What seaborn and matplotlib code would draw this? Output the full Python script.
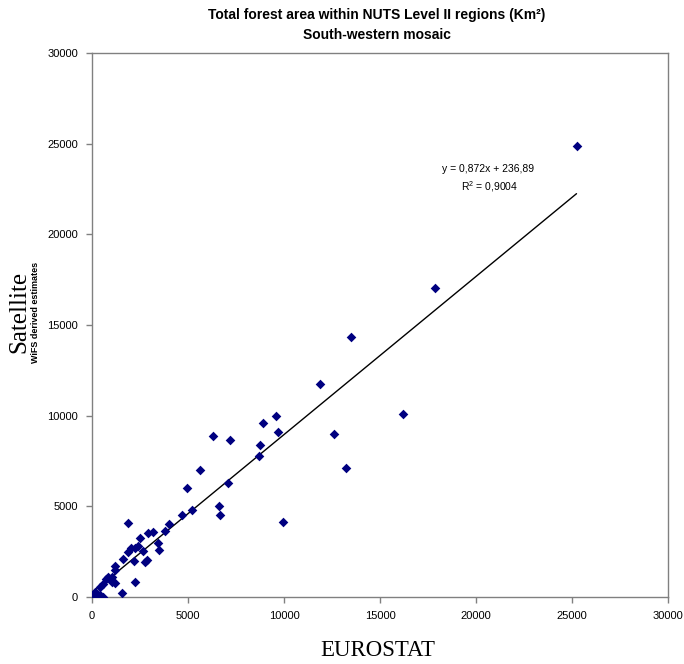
import numpy as np
import pandas as pd
import matplotlib
matplotlib.use("Agg")
import matplotlib.pyplot as plt
from matplotlib.transforms import Bbox, TransformedBbox
import seaborn as sns

# Forest area per NUTS II region (km²): EUROSTAT statistics vs. satellite estimates
eurostat = [25235, 17842, 13512, 16188, 11895, 12625, 13215, 9599, 8905, 9688,
            9938, 8728, 8676, 6313, 7163, 7080, 5650, 4956, 5233, 6600,
            6662, 4711, 1852, 4028, 3824, 3198, 2895, 2504, 3459, 3511,
            2635, 2415, 2019, 2217, 1894, 2870, 2780, 2207, 1591, 1200,
            1200, 835, 1017, 715, 1059, 1200, 2243, 590, 417, 1549,
            30, 157, 330, 590, 157, 260, 420]
satellite = [24864, 17052, 14350, 10089, 11743, 9014, 7128, 9962, 9576, 9096,
             4151, 8407, 7773, 8893, 8672, 6296, 7001, 6037, 4796, 5017,
             4521, 4521, 4069, 4024, 3666, 3572, 3512, 3242, 3005, 2619,
             2536, 2812, 2685, 2729, 2464, 2060, 1930, 1985, 2095, 1709,
             1488, 1103, 1130, 1020, 843, 788, 827, 717, 551, 204,
             20, 17, 17, 17, 276, 165, 110]

# Linear trend line as reported on the chart
slope = 0.872
intercept = 236.89
r_squared = 0.9004

x_ticks = [0, 5000, 10000, 15000, 20000, 25000, 30000]
y_ticks = [0, 5000, 10000, 15000, 20000, 25000, 30000]

sns.set_style("ticks")
plt.rcParams["font.family"] = ["Liberation Sans", "DejaVu Sans"]
plt.rcParams["text.color"] = "black"
plt.rcParams["mathtext.fontset"] = "custom"
plt.rcParams["mathtext.rm"] = "Liberation Sans"
plt.rcParams["mathtext.it"] = "Liberation Sans:italic"

df = pd.DataFrame({"EUROSTAT": eurostat, "Satellite": satellite})
x_line = np.array([min(eurostat), max(eurostat)])
trend = pd.DataFrame({"x": x_line, "y": slope * x_line + intercept})

fig = plt.figure(figsize=(6.84, 6.64), dpi=100)
ax = fig.add_axes([92 / 684, 1 - 597 / 664, (668 - 92) / 684, (597 - 53) / 664])

sns.lineplot(data=trend, x="x", y="y", ax=ax, color="black", linewidth=1.0, zorder=2)
sns.scatterplot(data=df, x="EUROSTAT", y="Satellite", ax=ax, marker="D",
                color="#000080", s=24, linewidth=0, zorder=3)

ax.set_xlim(0, 30000)
ax.set_ylim(0, 30000)
ax.set_xticks(x_ticks)
ax.set_yticks(y_ticks)
ax.set_xticklabels([str(v) for v in x_ticks], fontsize=8)
ax.set_yticklabels([str(v) for v in y_ticks], fontsize=8)
ax.tick_params(axis="both", direction="out", length=4, width=1, color="#808080",
               labelcolor="black", pad=6)
for side in ["left", "right", "top", "bottom"]:
    ax.spines[side].set_visible(True)
    ax.spines[side].set_color("#808080")
    ax.spines[side].set_linewidth(1)
ax.set_xlabel("")
ax.set_ylabel("")

ax.text(0.687, 0.786, f"y = {slope:.3f}x + {intercept:.2f}".replace(".", ","),
        transform=ax.transAxes, ha="center", va="center", fontsize=7.5)
ax.text(0.69, 0.755, "R$^{2}$" + f" = {r_squared:.4f}".replace(".", ","),
        transform=ax.transAxes, ha="center", va="center", fontsize=7.5)

fig.text(377 / 684, 1 - 15 / 664, "Total forest area within NUTS Level II regions (Km²)",
         ha="center", va="center", fontsize=10, fontweight="bold")
fig.text(377 / 684, 1 - 35 / 664, "South-western mosaic",
         ha="center", va="center", fontsize=10, fontweight="bold")

fig.text(378 / 684, 1 - 650 / 664, "EUROSTAT", ha="center", va="center",
         fontsize=16.5, family=["Liberation Serif", "DejaVu Serif"])
fig.text(19 / 684, 1 - 312 / 664, "Satellite", ha="center", va="center",
         rotation=90, fontsize=18, family=["Liberation Serif", "DejaVu Serif"])

# Sub-title of the value axis, partly hidden behind its neighbour
sub = fig.text(31 / 684, 1 - 312 / 664, "WiFS derived estimates", ha="left",
               va="center", rotation=90, fontsize=6.5, fontweight="bold")
sub.set_clip_box(TransformedBbox(Bbox([[0, 0], [37.5 / 684, 1]]), fig.transFigure))
sub.set_clip_on(True)

fig.savefig("out.png", dpi=100)
